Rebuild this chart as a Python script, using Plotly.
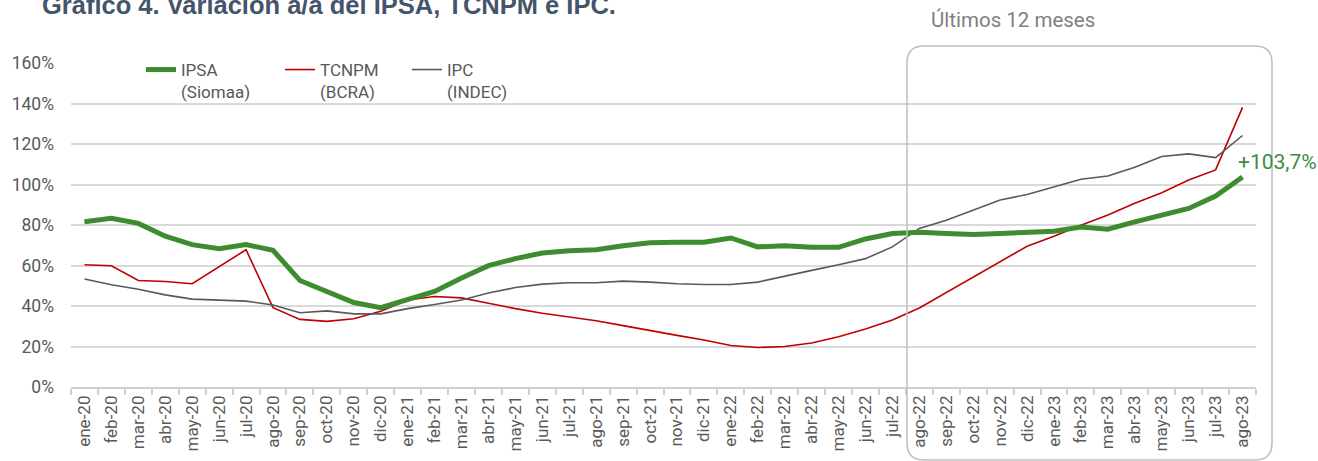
import plotly.graph_objects as go

months = ["ene-20","feb-20","mar-20","abr-20","may-20","jun-20","jul-20","ago-20","sep-20","oct-20","nov-20","dic-20",
          "ene-21","feb-21","mar-21","abr-21","may-21","jun-21","jul-21","ago-21","sep-21","oct-21","nov-21","dic-21",
          "ene-22","feb-22","mar-22","abr-22","may-22","jun-22","jul-22","ago-22","sep-22","oct-22","nov-22","dic-22",
          "ene-23","feb-23","mar-23","abr-23","may-23","jun-23","jul-23","ago-23"]

ipsa = [81.6, 83.3, 80.8, 74.5, 70.3, 68.3, 70.3, 67.5, 52.6, 47.2, 41.7, 39.2,
        43.0, 47.2, 53.8, 59.9, 63.4, 66.2, 67.3, 67.8, 69.8, 71.2, 71.5, 71.5,
        73.6, 69.2, 69.8, 69.0, 69.0, 73.1, 75.8, 76.4, 75.8, 75.3, 75.8, 76.6,
        76.9, 79.0, 77.9, 81.5, 84.7, 88.2, 94.3, 103.7]

tcnpm = [60.4, 59.9, 52.6, 52.1, 51.0, 59.3, 67.8, 39.2, 33.4, 32.4, 33.7, 37.4,
         43.0, 44.7, 44.0, 41.4, 38.7, 36.4, 34.7, 32.7, 30.3, 27.8, 25.5, 23.2,
         20.5, 19.5, 20.0, 21.7, 24.8, 28.6, 33.1, 39.0, 46.6, 53.9, 61.5, 69.5,
         74.4, 79.9, 84.9, 90.7, 95.9, 102.2, 107.2, 138.1]

ipc = [53.3, 50.5, 48.3, 45.5, 43.4, 42.9, 42.4, 40.5, 36.7, 37.6, 36.1, 36.1,
       38.7, 40.7, 43.0, 46.4, 49.1, 50.8, 51.5, 51.5, 52.3, 51.8, 51.0, 50.6,
       50.6, 51.8, 54.8, 57.6, 60.4, 63.4, 69.2, 78.3, 82.4, 87.3, 92.3, 95.1,
       98.9, 102.6, 104.2, 108.5, 113.8, 115.1, 113.3, 124.2]

names = ["IPSA<br>(Siomaa)", "TCNPM<br>(BCRA)", "IPC<br>(INDEC)"]
y_ticks = [0, 20, 40, 60, 80, 100, 120, 140, 160]

W, H = 1318, 461
ML, MR, MT, MB = 71, 62, 63, 74
PW, PH = W - ML - MR, H - MT - MB

def px(xp):
    return (xp - ML) / PW

def py(yp):
    return (H - MB - yp) / PH

GREEN = "#3D8C2F"
RED = "#C00000"
GRAY = "#595959"
TXT = "#595959"

fig = go.Figure()
fig.add_trace(go.Scatter(x=months, y=tcnpm, mode="lines", name=names[1],
                         line=dict(color=RED, width=1.6), legend="legend2"))
fig.add_trace(go.Scatter(x=months, y=ipc, mode="lines", name=names[2],
                         line=dict(color=GRAY, width=1.6), legend="legend3"))
fig.add_trace(go.Scatter(x=months, y=ipsa, mode="lines", name=names[0],
                         line=dict(color=GREEN, width=5), legend="legend"))

legend_common = dict(orientation="h", yanchor="top", xanchor="left",
                     bgcolor="rgba(0,0,0,0)", borderwidth=0, valign="top",
                     font=dict(family="Roboto", size=17, color=TXT))
leg_y = py(52)

fig.update_layout(
    width=W, height=H,
    margin=dict(l=ML, r=MR, t=MT, b=MB, autoexpand=False),
    paper_bgcolor="white", plot_bgcolor="white",
    font=dict(family="Roboto", size=17, color=TXT),
    showlegend=True,
    legend=dict(x=px(141), y=leg_y, **legend_common),
    legend2=dict(x=px(280), y=leg_y, **legend_common),
    legend3=dict(x=px(407), y=leg_y, **legend_common),
    xaxis=dict(type="category", tickangle=-90, tickson="boundaries",
               ticks="outside", ticklen=6, tickcolor="#D0D0D0", tickwidth=1.5,
               showline=True, linecolor="#D0D0D0", linewidth=1.5,
               showgrid=False, tickfont=dict(family="Roboto", size=17, color=TXT),
               range=[-0.5, len(months) - 0.5], fixedrange=True),
    yaxis=dict(range=[0, 160], tickvals=y_ticks, ticktext=[f"{v}%" for v in y_ticks],
               showgrid=True, gridcolor="#D9D9D9", gridwidth=1.5,
               zeroline=False, showline=False, ticks="", ticklabelstandoff=16,
               tickfont=dict(family="Roboto", size=17.5, color=TXT), fixedrange=True),
)

# rounded rectangle for "Últimos 12 meses"
L, R, T, B = px(907), px(1272), py(46), py(460)
rx, ry = 17 / PW, 17 / PH
path = (f"M {L+rx},{T} L {R-rx},{T} Q {R},{T} {R},{T-ry} "
        f"L {R},{B+ry} Q {R},{B} {R-rx},{B} "
        f"L {L+rx},{B} Q {L},{B} {L},{B+ry} "
        f"L {L},{T-ry} Q {L},{T} {L+rx},{T} Z")
fig.add_shape(type="path", path=path, xref="paper", yref="paper",
              line=dict(color="#BFBFBF", width=1.5), layer="above")

fig.add_annotation(text="Últimos 12 meses", x=px(1013), y=py(20), xref="paper", yref="paper",
                   xanchor="center", yanchor="middle", showarrow=False,
                   font=dict(family="Roboto", size=20.5, color="#7F7F7F"))

fig.add_annotation(text="+103,7%", x=px(1236), y=py(162), xref="paper", yref="paper",
                   xanchor="left", yanchor="middle", showarrow=False,
                   font=dict(family="Roboto", size=21, color="#3A8C45"))

fig.add_annotation(text="<b>Gráfico 4. Variación a/a del IPSA, TCNPM e IPC.</b>",
                   x=px(40), y=py(5), xref="paper", yref="paper",
                   xanchor="left", yanchor="middle", showarrow=False,
                   font=dict(family="Liberation Sans", size=25.5, color="#44546A"))

fig.write_html("out.html", config={"displayModeBar": False},
               post_script="document.body.style.margin='0px';")
